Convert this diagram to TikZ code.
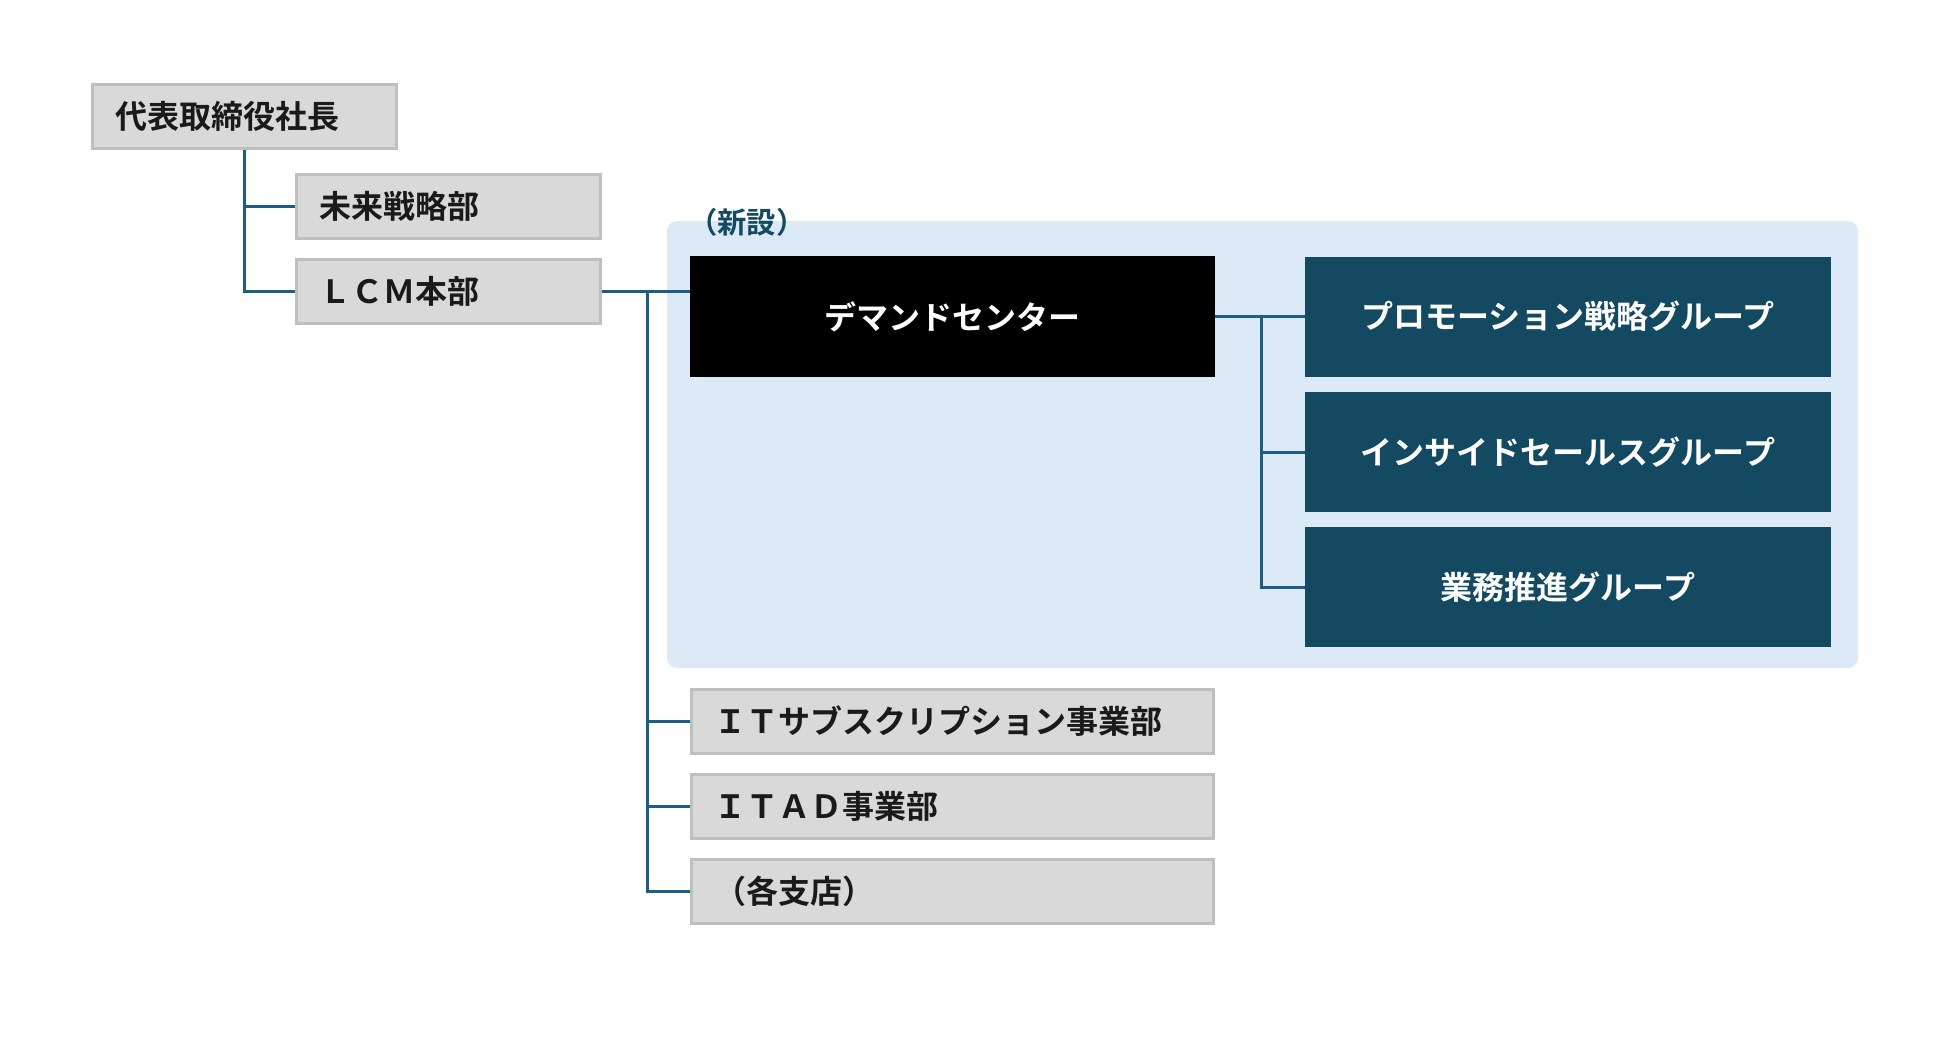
\documentclass[tikz,border=0pt]{standalone}
\usepackage{fontspec}
\setmainfont{Noto Sans CJK JP}[BoldFont={Noto Sans CJK JP Bold}]
\usepackage{xcolor}
\usepackage{tikz}
\usetikzlibrary{positioning}
\definecolor{orgLine}{HTML}{1D5E80}
\definecolor{orgGray}{HTML}{D9D9D9}
\definecolor{orgEdge}{HTML}{BFBFBF}
\definecolor{orgNavy}{HTML}{134961}
\definecolor{orgRegion}{HTML}{DCE9F6}
\definecolor{orgInk}{HTML}{1A1A1A}
\tikzset{
  org chart/.style={font=\bfseries\fontsize{24}{28}\selectfont, text=orgInk},
  org box/.style={draw=orgEdge, fill=orgGray, line width=2.25pt,
    inner xsep=17pt, inner ysep=0pt, align=left, minimum height=48pt},
  org small/.style={org box, text width=194pt},
  org wide/.style={org box, text width=357.5pt},
  org dark/.style={fill=orgNavy, text=white, inner sep=0pt, align=center,
    minimum width=394.5pt, minimum height=90pt},
  org line/.style={draw=orgLine, line width=2.25pt},
  org new/.style={font=\bfseries\fontsize{22}{26}\selectfont, text=orgNavy,
    inner sep=0pt}
}
\begin{document}
\begin{tikzpicture}[org chart,x=0.75pt,y=-0.75pt]
\useasboundingbox (0,0) rectangle (1950,1039);
% new division area
\fill[orgRegion, rounded corners=7.5pt] (667,221) rectangle (1858,668);
\node[org new, anchor=west] (newlabel) at (688,222) {（新設）};
% top level
\node[org small] (ceo) at (244.5,116.5) {代表取締役社長};
\node[org small] (mirai) at (448.5,206) {未来戦略部};
\node[org small] (lcm) at (448.5,291) {ＬＣＭ本部};
% demand center and its groups
\node[org dark, fill=black, minimum width=393.75pt, minimum height=90.75pt]
  (demand) at (952.5,316.5) {デマンドセンター};
\node[org dark] (promo) at (1568,316.5) {プロモーション戦略グループ};
\node[org dark] (inside) at (1568,452) {インサイドセールスグループ};
\node[org dark] (gyomu) at (1568,587) {業務推進グループ};
% other divisions
\node[org wide] (itsub) at (952.5,721) {ＩＴサブスクリプション事業部};
\node[org wide] (itad) at (952.5,806) {ＩＴＡＤ事業部};
\node[org wide] (branch) at (952.5,891.5) {（各支店）};
% connectors
\draw[org line] (ceo.south) |- (mirai.west);
\draw[org line] (ceo.south) |- (lcm.west);
\coordinate (lcmjoint) at (647,291);
\draw[org line] (lcm.east) -- (lcm.east -| demand.west);
\foreach \n in {itsub,itad,branch}
  \draw[org line] (lcmjoint) |- (\n.west);
\coordinate (dcjoint) at (1261,316.5);
\draw[org line] (demand.east) -- (promo.west);
\foreach \n in {inside,gyomu}
  \draw[org line] (dcjoint) |- (\n.west);
\end{tikzpicture}
\end{document}
